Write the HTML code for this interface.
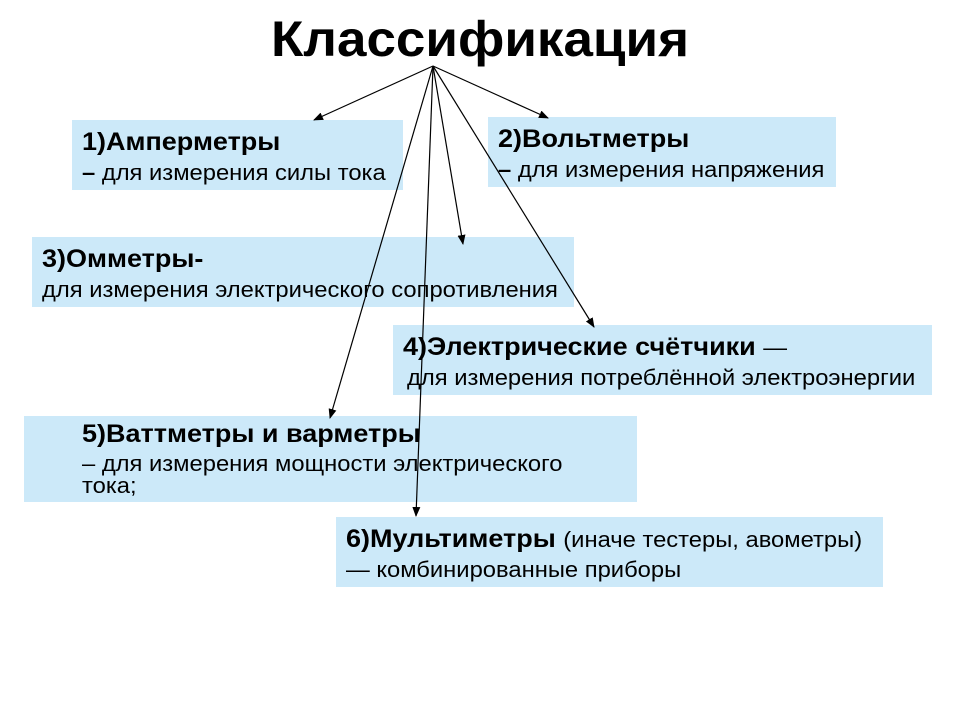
<!DOCTYPE html>
<html><head><meta charset="utf-8"><style>
body{margin:0;width:960px;height:720px;background:#fff;position:relative;overflow:hidden;font-family:"Liberation Sans",sans-serif;}
.b{position:absolute;background:#cce9f9;color:#000;}
.t{position:absolute;white-space:nowrap;transform:scaleX(1.08);transform-origin:0 0;line-height:1;}
.h{font-weight:bold;font-size:25px;}
.n{font-size:22px;}
.h .n{font-weight:normal;font-size:22px;}
</style></head><body>
<div style="position:absolute;left:0;width:960px;text-align:center;top:10px;font-size:50px;font-weight:bold;transform:scaleX(1.06);transform-origin:480px 0;">Классификация</div>
<div class="b" style="left:72px;top:120px;width:331px;height:70px"></div>
<div class="b" style="left:488px;top:117px;width:348px;height:70px"></div>
<div class="b" style="left:32px;top:237px;width:542px;height:70px"></div>
<div class="b" style="left:393px;top:325px;width:539px;height:70px"></div>
<div class="b" style="left:24px;top:416px;width:613px;height:86px"></div>
<div class="b" style="left:336px;top:517px;width:547px;height:70px"></div>

<div class="t h" style="left:82px;top:130px">1)Амперметры</div>
<div class="t n" style="left:82px;top:162px"><b>–</b> для измерения силы тока</div>
<div class="t h" style="left:498px;top:127px">2)Вольтметры</div>
<div class="t n" style="left:498px;top:159px"><b>–</b> для измерения напряжения</div>
<div class="t h" style="left:42px;top:247px">3)Омметры-</div>
<div class="t n" style="left:42px;top:279px">для измерения электрического сопротивления</div>
<div class="t h" style="left:403px;top:335px">4)Электрические счётчики <span class="n">—</span></div>
<div class="t n" style="left:407px;top:367px">для измерения потреблённой электроэнергии</div>
<div class="t h" style="left:82px;top:422px">5)Ваттметры и варметры</div>
<div class="t n" style="left:82px;top:453px">– для измерения мощности электрического</div>
<div class="t n" style="left:82px;top:475px">тока;</div>
<div class="t h" style="left:346px;top:527px">6)Мультиметры <span class="n">(иначе тестеры, авометры)</span></div>
<div class="t n" style="left:346px;top:559px">— комбинированные приборы</div>

<svg width="960" height="720" style="position:absolute;left:0;top:0">
<defs><marker id="a" markerWidth="10" markerHeight="8" refX="9" refY="4" orient="auto" markerUnits="userSpaceOnUse"><path d="M0,0L10,4L0,8z" fill="#000"/></marker></defs>
<g stroke="#000" stroke-width="1.2" marker-end="url(#a)">
<line x1="433" y1="66" x2="314" y2="120"/>
<line x1="433" y1="66" x2="548" y2="118"/>
<line x1="433" y1="66" x2="463" y2="244"/>
<line x1="433" y1="66" x2="594" y2="327"/>
<line x1="433" y1="66" x2="330" y2="418"/>
<line x1="433" y1="66" x2="416" y2="516"/>
</g></svg>
</body></html>
